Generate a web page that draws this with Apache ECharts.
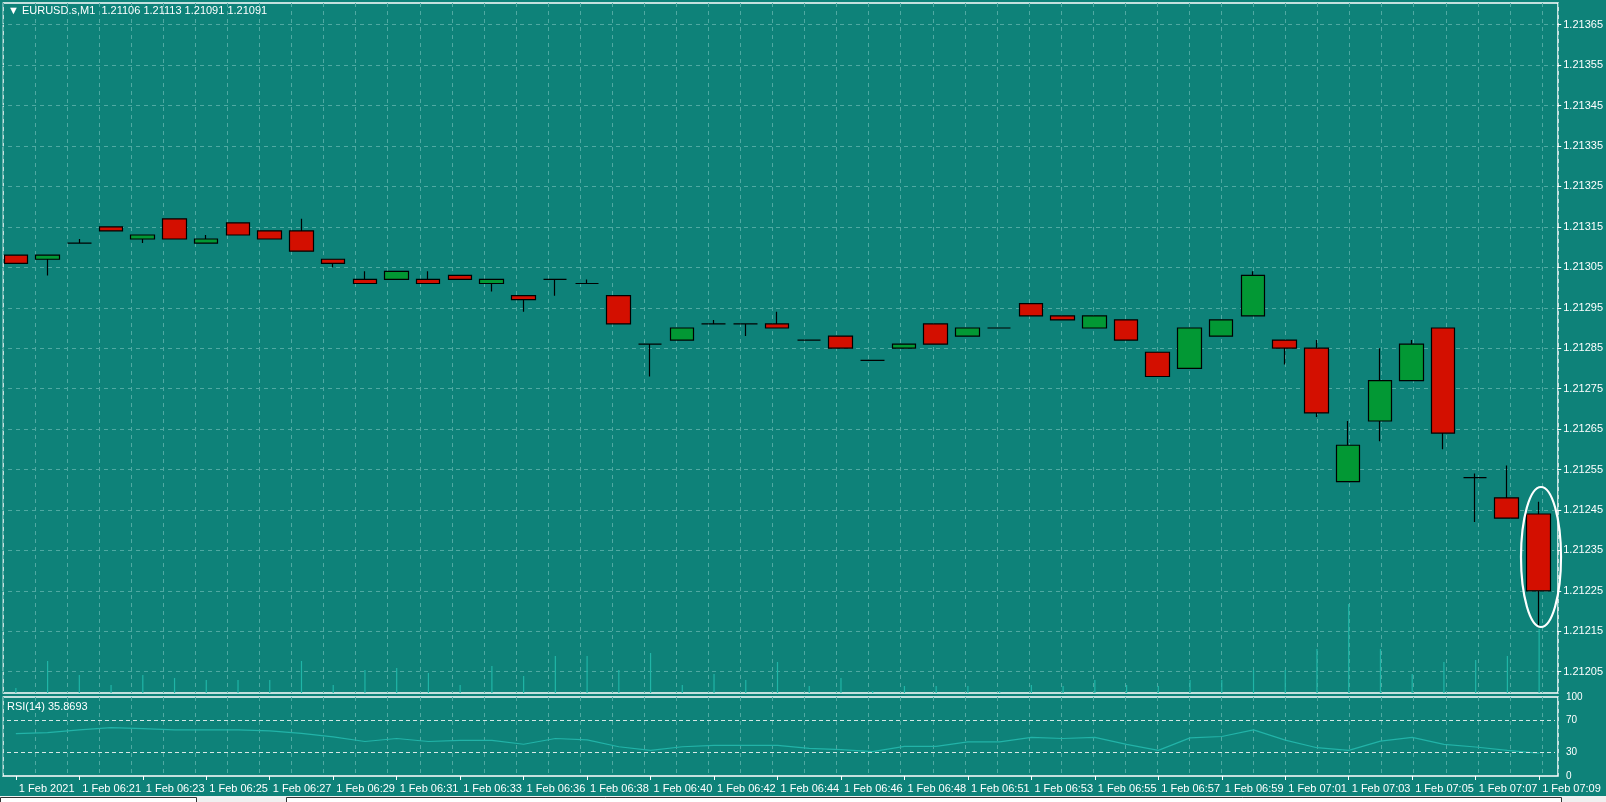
<!DOCTYPE html>
<html>
<head>
<meta charset="utf-8">
<script src="https://cdn.jsdelivr.net/npm/echarts@6/dist/echarts.min.js"></script>
<style>
  html, body { margin: 0; padding: 0; background: #0e8279; }
  #chart { width: 1606px; height: 802px; }
</style>
</head>
<body>
<div id="chart"></div>
<script>
// minutes of the M1 candles (06:34 and 06:49 are missing in the feed)
const times = ['06:19','06:20','06:21','06:22','06:23','06:24','06:25','06:26','06:27','06:28','06:29','06:30','06:31','06:32','06:33','06:35',
  '06:36','06:37','06:38','06:39','06:40','06:41','06:42','06:43','06:44','06:45','06:46','06:47','06:48','06:50',
  '06:51','06:52','06:53','06:54','06:55','06:56','06:57','06:58','06:59','07:00','07:01','07:02','07:03','07:04','07:05','07:06','07:07','07:08','07:09'];

const opens  = [1.21308,1.21307,1.21311,1.21315,1.21312,1.21317,1.21311,1.21316,1.21314,1.21314,1.21307,1.21302,1.21302,1.21302,1.21303,1.21301,
  1.21298,1.21302,1.21301,1.21298,1.21286,1.21287,1.21291,1.21291,1.21291,1.21287,1.21288,1.21282,1.21285,1.21291,
  1.21288,1.21290,1.21296,1.21293,1.21290,1.21292,1.21284,1.21280,1.21288,1.21293,1.21287,1.21285,1.21252,1.21267,1.21277,1.21290,1.21253,1.21248,1.21244];
const closes = [1.21306,1.21308,1.21311,1.21314,1.21313,1.21312,1.21312,1.21313,1.21312,1.21309,1.21306,1.21301,1.21304,1.21301,1.21302,1.21302,
  1.21297,1.21302,1.21301,1.21291,1.21286,1.21290,1.21291,1.21291,1.21290,1.21287,1.21285,1.21282,1.21286,1.21286,
  1.21290,1.21290,1.21293,1.21292,1.21293,1.21287,1.21278,1.21290,1.21292,1.21303,1.21285,1.21269,1.21261,1.21277,1.21286,1.21264,1.21253,1.21243,1.21225];
const highs  = [1.21308,1.21308,1.21312,1.21315,1.21313,1.21317,1.21313,1.21316,1.21314,1.21317,1.21307,1.21304,1.21304,1.21304,1.21303,1.21302,
  1.21298,1.21302,1.21302,1.21298,1.21286,1.21290,1.21292,1.21291,1.21294,1.21287,1.21288,1.21282,1.21286,1.21291,
  1.21290,1.21290,1.21296,1.21293,1.21293,1.21292,1.21284,1.21290,1.21292,1.21304,1.21287,1.21287,1.21267,1.21285,1.21287,1.21290,1.21254,1.21256,1.21247];
const lows   = [1.21306,1.21303,1.21311,1.21314,1.21311,1.21312,1.21311,1.21313,1.21312,1.21309,1.21305,1.21301,1.21302,1.21301,1.21302,1.21299,
  1.21294,1.21298,1.21301,1.21291,1.21278,1.21287,1.21291,1.21288,1.21290,1.21287,1.21285,1.21282,1.21285,1.21286,
  1.21288,1.21290,1.21293,1.21292,1.21290,1.21287,1.21278,1.21280,1.21288,1.21293,1.21281,1.21268,1.21252,1.21262,1.21277,1.21260,1.21242,1.21243,1.21216];

// tick volume (relative)
const volumes = [5,32,18,8,18,15,13,13,13,32,8,23,25,20,8,27,17,37,37,23,40,8,19,13,31,7,15,2,7,7,7,2,8,7,13,8,7,13,13,23,23,44,89,44,19,31,33,37,64];

const rsi = [53.7,55,58.3,61.3,60,58.3,58.3,58.3,57,54,49.6,43.7,47.5,43.7,45,45,40.2,47.5,45.8,37,32.5,37,38.8,38.8,38.8,35,33.3,30.8,37.5,37.5,
  43.3,43.3,48.8,47.5,49,40,32.5,48.3,50,58.3,45.4,35.8,32.5,44.2,49,40,36.7,32.5,28.8];

const priceTicks = { min: 1.21205, max: 1.21365, step: 0.0001 };

const BG = '#0e8279';
const GRIDC = '#4fa9a2';
const FONT = 'Liberation Sans';

const candles = times.map((t, i) => [opens[i], closes[i], lows[i], highs[i]]);
const labelOf = (v, i) => (i === 0 ? '1 Feb 2021' : '1 Feb ' + v);

const chart = echarts.init(document.getElementById('chart'));

const dashed = { show: true, lineStyle: { color: GRIDC, type: [4, 4], width: 1 } };

chart.setOption({
  backgroundColor: BG,
  animation: false,
  grid: [
    { left: 3, top: 3, width: 1555, height: 690, show: true, borderColor: '#fff', borderWidth: 1.5, backgroundColor: BG },
    { left: -13, top: 24.7, width: 1568, height: 647 },
    { left: -13, top: 3, width: 1568, height: 690 },
    { left: 3, top: 697, width: 1555, height: 79, show: true, borderColor: '#fff', borderWidth: 1.5, backgroundColor: BG },
    { left: -13, top: 697, width: 1568, height: 79 }
  ],
  xAxis: [
    { gridIndex: 0, type: 'value', min: 0, max: 48.5, interval: 1, show: true,
      axisLine: { show: false }, axisTick: { show: false }, axisLabel: { show: false }, splitLine: dashed },
    { gridIndex: 1, type: 'category', data: times, show: false },
    { gridIndex: 2, type: 'category', data: times, show: false },
    { gridIndex: 3, type: 'value', min: 0, max: 48.5, interval: 1,
      axisLine: { show: false }, axisTick: { show: false }, axisLabel: { show: false }, splitLine: dashed },
    { gridIndex: 4, type: 'category', data: times, boundaryGap: true,
      axisLine: { show: false },
      axisTick: { show: true, interval: 1, alignWithLabel: true, length: 4, lineStyle: { color: '#fff' } },
      axisLabel: { interval: 1, color: '#fff', fontFamily: FONT, fontSize: 11, align: 'left', margin: 7,
        padding: [0, 0, 0, 3], hideOverlap: false, showMaxLabel: true, formatter: labelOf },
      splitLine: { show: false } }
  ],
  yAxis: [
    { gridIndex: 0, type: 'value', min: 0, max: 1, show: false },
    { gridIndex: 1, type: 'value', position: 'right', offset: 3, min: priceTicks.min, max: priceTicks.max, interval: priceTicks.step,
      axisLine: { show: false },
      axisTick: { show: true, length: 4, lineStyle: { color: '#fff' } },
      axisLabel: { color: '#fff', fontFamily: FONT, fontSize: 11, margin: 6, formatter: v => v.toFixed(5) },
      splitLine: dashed },
    { gridIndex: 2, type: 'value', min: 0, max: 690, show: false },
    { gridIndex: 3, type: 'value', min: 0, max: 100, show: false },
    { gridIndex: 4, type: 'value', position: 'right', offset: 3, min: 0, max: 100, interval: 10,
      axisLine: { show: false }, axisTick: { show: false },
      axisLabel: { color: '#fff', fontFamily: FONT, fontSize: 10, margin: 8,
        formatter: v => ([0, 30, 70, 100].includes(v) ? String(v) : '') },
      splitLine: { show: false } }
  ],
  series: [
    { type: 'bar', xAxisIndex: 2, yAxisIndex: 2, data: volumes, barWidth: 1.2,
      itemStyle: { color: '#20b5a7' }, z: 2 },
    { type: 'candlestick', xAxisIndex: 1, yAxisIndex: 1, data: candles, barWidth: 24,
      itemStyle: { color: '#029834', color0: '#d30f00', borderColor: '#000', borderColor0: '#000', borderWidth: 1.2 },
      z: 5 },
    { type: 'line', xAxisIndex: 4, yAxisIndex: 4, data: rsi, symbol: 'none',
      lineStyle: { color: '#22b3a8', width: 1.2 },
      markLine: { silent: true, symbol: 'none', label: { show: false },
        lineStyle: { color: '#d8e8e6', type: [4, 3], width: 1 },
        data: [{ yAxis: 70 }, { yAxis: 30 }] } }
  ],
  graphic: [
    { type: 'rect', left: 0, top: 0, shape: { width: 2.5, height: 776 }, style: { fill: BG }, z: 100 },
    { type: 'text', left: 8, top: 5, z: 100,
      style: { text: '▼ EURUSD.s,M1  1.21106 1.21113 1.21091 1.21091', fill: '#fff', font: '11px "Liberation Sans"' } },
    { type: 'text', left: 7, top: 701, z: 100,
      style: { text: 'RSI(14) 35.8693', fill: '#fff', font: '11px "Liberation Sans"' } },
    { type: 'ellipse', z: 100, shape: { cx: 1541, cy: 557, rx: 20, ry: 70 },
      style: { fill: 'none', stroke: '#fff', lineWidth: 2.2 } },
    { type: 'rect', left: 0, top: 796, z: 100, shape: { width: 1606, height: 6 }, style: { fill: '#f0f0f0' } },
    { type: 'rect', left: 0, top: 797, z: 101, shape: { width: 196, height: 8 }, style: { fill: '#fff', stroke: '#333', lineWidth: 1 } },
    { type: 'rect', left: 286, top: 797, z: 101, shape: { width: 1275, height: 8 }, style: { fill: '#fff', stroke: '#333', lineWidth: 1 } }
  ]
});
</script>
</body>
</html>
